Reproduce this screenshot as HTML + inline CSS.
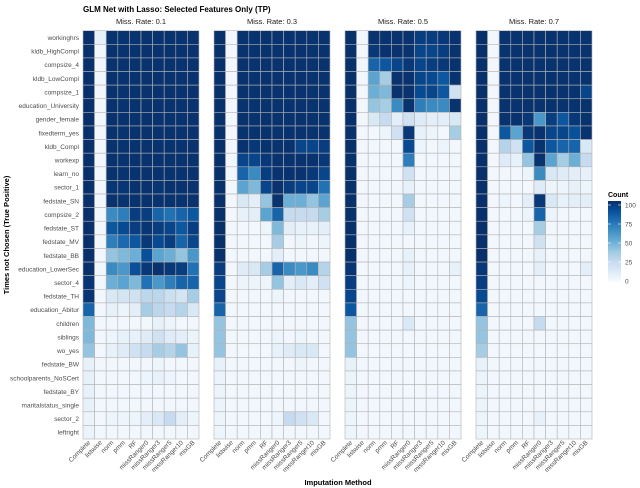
<!DOCTYPE html>
<html><head><meta charset="utf-8"><style>
body{margin:0;background:#fff}
svg{display:block;font-family:"Liberation Sans",sans-serif}
</style></head><body>
<svg id="c" width="640" height="488" viewBox="0 0 640 488" xmlns="http://www.w3.org/2000/svg">
<text x="83" y="12" font-size="8" font-weight="bold" fill="#000">GLM Net with Lasso: Selected Features Only (TP)</text>
<text transform="translate(9,235) rotate(-90)" text-anchor="middle" font-size="7.5" font-weight="bold">Times not Chosen (True Positive)</text>
<text x="338" y="485" text-anchor="middle" font-size="7.5" font-weight="bold">Imputation Method</text>
<g id="plots"></g>
<g id="legend">
<defs><linearGradient id="lg" x1="0" y1="1" x2="0" y2="0"></linearGradient></defs>
<text x="608" y="197" font-size="7" font-weight="bold">Count</text>
<rect x="608" y="201" width="13" height="81" fill="url(#lg)"/>
</g>
</svg>
<script>
const rows=["workinghrs","kldb_HighCompl","compsize_4","kldb_LowCompl","compsize_1","education_University","gender_female","fixedterm_yes","kldb_Compl","workexp","learn_no","sector_1","fedstate_SN","compsize_2","fedstate_ST","fedstate_MV","fedstate_BB","education_LowerSec","sector_4","fedstate_TH","education_Abitur","children","siblings","wo_yes","fedstate_BW","schoolparents_NoSCert","fedstate_BY","maritalstatus_single","sector_2","leftright"];
const methods=["Complete","listwise","norm","pmm","RF","missRanger0","missRanger3","missRanger5","missRanger10","mixGB"];
const panelTitles=["Miss. Rate: 0.1","Miss. Rate: 0.3","Miss. Rate: 0.5","Miss. Rate: 0.7"];
const legendTicks=[0,25,50,75,100];
const rate01=[
[100,8,99,99,99,99,99,99,99,99],[100,3,99,99,99,99,99,99,99,99],[100,3,99,99,99,99,99,99,99,99],[100,3,99,99,99,99,99,99,99,99],[100,3,99,99,99,99,99,99,99,99],[100,3,99,99,99,99,99,99,99,99],[100,3,99,99,99,99,99,99,99,99],[100,3,99,99,99,99,99,99,99,99],[100,3,99,99,99,99,99,99,99,99],[100,3,99,99,99,99,99,99,99,99],[100,3,99,99,99,99,99,99,99,99],[100,3,98,98,99,99,98,99,99,99],[100,3,99,99,99,99,99,99,99,99],
[100,3,65,70,95,95,80,75,80,85],[100,3,85,90,95,98,95,92,85,95],[100,3,70,78,85,97,90,95,80,92],[100,3,40,45,50,88,55,50,40,60],[100,3,65,60,88,97,99,97,95,75],[98,3,50,55,45,75,60,70,80,80],[98,3,15,18,20,28,28,22,18,35],[80,3,8,6,10,35,28,25,30,15],[45,3,3,3,3,3,8,5,3,3],[45,3,5,8,8,12,20,12,10,6],[40,3,8,12,20,25,35,30,40,8],[8,3,3,3,3,3,5,3,3,3],[8,3,3,3,3,5,8,5,3,3],[8,3,3,3,3,3,3,3,3,3],[8,3,3,3,3,3,3,3,3,3],[6,3,5,5,5,10,15,25,10,5],[6,3,3,3,3,3,3,3,3,3]];
const rate03=[
[100,3,99,99,99,99,99,99,99,99],[100,3,99,99,99,99,99,99,99,99],[100,3,99,99,99,99,99,99,99,99],[100,3,99,99,99,99,99,99,99,99],[100,3,99,99,99,99,99,99,99,99],[100,3,99,99,99,99,99,99,99,99],[100,3,99,99,99,99,99,99,99,99],[100,3,99,99,99,99,99,99,99,99],[100,3,99,97,99,99,99,92,92,95],[100,3,92,92,97,99,99,99,99,97],[100,3,80,65,95,99,99,99,97,92],[100,3,55,45,92,99,95,92,92,75],[100,3,15,10,40,99,50,50,40,55],[100,3,8,10,55,80,25,25,25,35],[100,3,3,3,5,45,10,8,8,10],[100,3,3,3,3,35,3,5,3,5],[100,3,3,3,3,10,3,3,3,3],[95,3,12,15,35,80,65,60,65,30],[92,3,5,5,5,40,10,15,10,20],[92,3,3,3,3,5,3,3,3,3],[80,3,3,3,3,3,3,3,3,3],[40,3,3,3,3,3,3,3,3,3],[40,3,3,3,3,5,3,5,3,3],[40,3,3,3,3,8,12,15,15,3],[8,3,3,3,3,3,3,5,3,3],[6,3,3,3,3,3,3,3,3,3],[6,3,3,3,3,3,3,3,3,3],[6,3,3,3,3,3,3,3,3,3],[5,3,3,3,3,5,25,20,15,3],[5,3,3,3,3,3,3,3,3,3]];
const rate05=[
[100,3,99,99,99,99,95,95,97,99],[100,3,97,99,99,99,92,92,95,99],[100,3,80,85,92,97,92,95,97,99],[100,3,55,35,99,99,92,90,85,99],[100,3,50,45,99,99,90,92,85,20],[100,3,40,35,65,99,70,65,65,99],[100,3,15,25,10,20,12,10,10,15],[100,3,3,5,20,97,8,5,3,35],[100,3,3,3,3,90,5,3,5,3],[100,3,3,3,3,70,3,3,3,3],[100,3,3,3,3,20,3,3,3,3],[100,3,3,3,3,8,3,3,3,3],[100,3,3,3,3,35,3,3,3,3],[100,3,3,3,3,20,3,3,3,3],[100,3,3,3,3,8,3,3,3,3],[100,3,3,3,3,3,3,3,3,3],[100,3,3,3,3,8,3,3,3,3],[98,3,3,3,3,8,3,3,3,8],[95,3,3,3,3,5,3,3,3,3],[92,3,3,3,3,3,3,3,3,3],[85,3,3,3,3,3,3,3,3,3],[40,3,3,3,3,15,3,3,3,3],[40,3,3,3,3,3,3,3,3,3],[40,3,3,3,3,3,3,3,3,3],[8,3,3,3,3,3,3,3,3,3],[6,3,3,3,3,3,3,3,3,3],[6,3,3,3,3,3,3,3,3,3],[6,3,3,3,3,3,3,3,3,3],[5,3,3,3,3,3,3,3,3,3],[5,3,3,3,3,3,3,3,3,3]];
const rate07=[
[100,3,99,99,99,99,99,99,99,99],[100,3,99,99,99,99,99,99,99,99],[100,3,99,99,99,99,99,99,99,99],[100,3,99,99,99,99,99,99,99,99],[100,3,99,99,99,99,99,99,99,92],[100,3,99,99,99,99,99,99,99,99],[100,3,99,99,97,60,95,85,97,99],[100,3,85,55,97,99,92,92,88,99],[100,3,30,20,85,99,85,80,80,15],[100,3,12,8,40,99,55,35,50,25],[100,3,3,3,5,65,15,12,10,8],[100,3,3,3,3,12,5,5,8,5],[100,3,5,3,10,97,15,8,10,10],[100,3,3,3,5,80,5,3,3,3],[100,3,3,3,3,35,3,3,3,3],[100,3,3,3,3,20,3,3,3,3],[100,3,3,3,3,8,3,3,3,3],[97,3,3,3,3,10,3,3,3,10],[95,3,3,3,3,3,3,3,3,3],[90,3,3,3,3,3,3,3,3,3],[80,3,3,3,3,3,3,3,3,3],[40,3,3,3,3,25,3,3,3,3],[40,3,3,3,3,3,3,3,3,3],[35,3,3,3,3,3,3,3,3,3],[8,3,3,3,3,3,3,3,3,3],[6,3,3,3,3,3,3,3,3,3],[6,3,3,3,3,3,3,3,3,3],[6,3,3,3,3,3,3,3,3,3],[5,3,3,3,3,8,3,3,3,3],[5,3,3,3,3,3,3,3,3,3]];
const panels=[rate01,rate03,rate05,rate07];

const NS="http://www.w3.org/2000/svg";
const blues=["#f7fbff","#deebf7","#c6dbef","#9ecae1","#6baed6","#4292c6","#2171b5","#08519c","#08306b"];
function hex(c){return [1,3,5].map(i=>parseInt(c.substr(i,2),16));}
function color(v){
  const t=Math.max(0,Math.min(1,v/100))*(blues.length-1);
  const i=Math.min(blues.length-2,Math.floor(t)),f=t-i;
  const a=hex(blues[i]),b=hex(blues[i+1]);
  return "rgb("+a.map((x,k)=>Math.round(x+(b[k]-x)*f)).join(",")+")";
}
const plotTop=30.7,plotBottom=439,panelW=116,panelX0=83,panelStep=131;
const rowH=(plotBottom-plotTop)/rows.length,colW=panelW/methods.length;
function yScale(r){return plotTop+r*rowH;}
function xScale(p,m){return panelX0+p*panelStep+m*colW;}
function mk(tag,attrs,parent){const e=document.createElementNS(NS,tag);for(const k in attrs)e.setAttribute(k,attrs[k]);parent.appendChild(e);return e;}
const g=document.getElementById("plots");
rows.forEach((r,i)=>{
  const t=mk("text",{x:79,y:yScale(i)+rowH/2+2.5,"text-anchor":"end","font-size":"6.5",fill:"#4d4d4d"},g);
  
  
  t.textContent=r;
});
panels.forEach((data,p)=>{
  const pg=mk("g",{},g);
  
  
  const st=mk("text",{x:xScale(p,0)+panelW/2,y:24,"text-anchor":"middle","font-size":"7.5",fill:"#1a1a1a"},pg);
  
  
  st.textContent=panelTitles[p];
  data.forEach((row,i)=>row.forEach((v,j)=>{
    const c=mk("rect",{x:xScale(p,j),y:yScale(i),width:colW,height:rowH,fill:color(v),stroke:"#b4b4b4","stroke-width":"0.6"},pg);
    
    
  }));
  methods.forEach((m,j)=>{
    const cx=xScale(p,j)+colW/2;
    const t=mk("text",{transform:"translate("+(cx+2)+","+(plotBottom+4)+") rotate(-45)","text-anchor":"end","font-size":"6.5",fill:"#4d4d4d"},pg);
    
    
    t.textContent=m;
  });
});
const lg=document.getElementById("lg");
blues.forEach((c,i)=>{mk("stop",{offset:(i/(blues.length-1)),"stop-color":c},lg);});
const leg=document.getElementById("legend");
legendTicks.forEach(v=>{
  const y=281-v*0.76;
  const t=mk("text",{x:625,y:y+2.5,"font-size":"6.5",fill:"#4d4d4d"},leg);
  
  
  t.textContent=v;
  mk("line",{x1:608,x2:611,y1:y,y2:y,stroke:"#fff","stroke-width":"0.6"},leg);
  mk("line",{x1:618,x2:621,y1:y,y2:y,stroke:"#fff","stroke-width":"0.6"},leg);
});
</script>
</body></html>
